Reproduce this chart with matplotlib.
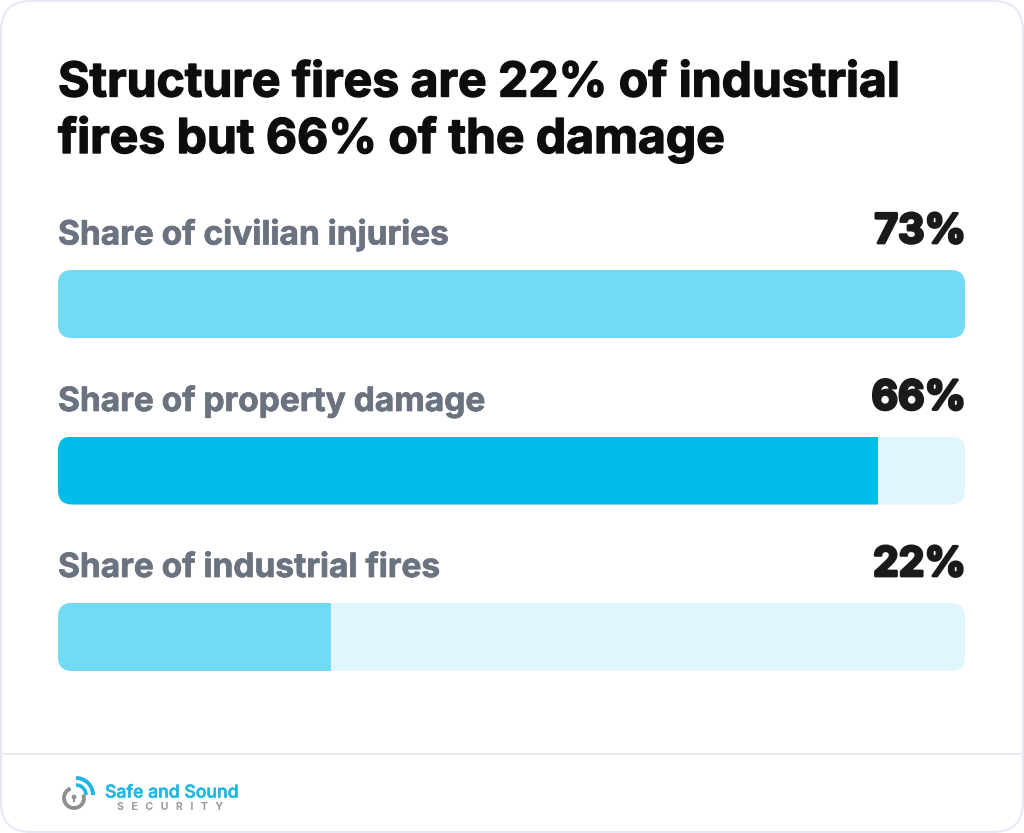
import matplotlib
matplotlib.use('Agg')
import matplotlib.pyplot as plt
import matplotlib.patheffects as pe
from matplotlib.patches import FancyBboxPatch, Arc, Circle, Rectangle

title_lines = ['Structure fires are 22% of industrial', 'fires but 66% of the damage']
categories = ['Share of civilian injuries', 'Share of property damage', 'Share of industrial fires']
values = [73, 66, 22]
value_labels = ['73%', '66%', '22%']
bar_colors = ['#72daf2', '#00bce8', '#72daf2']
axis_max = 73

W, H = 1024, 833
fig = plt.figure(figsize=(W / 100, H / 100), dpi=100, facecolor='white')


def heavy(width, color):
    # Inter Bold is lighter than the original face, so thicken it a bit
    return [pe.withStroke(linewidth=width, foreground=color)]


# overlay in pixel units for card, text and logo
px = fig.add_axes([0, 0, 1, 1])
px.set_xlim(0, W)
px.set_ylim(H, 0)
px.axis('off')

px.add_patch(FancyBboxPatch((1, 1), W - 2, H - 2, boxstyle='round,pad=0,rounding_size=30',
                            fc='white', ec='#e6e9f3', lw=1.5))
px.plot([1, W - 1], [754, 754], color='#e6e9f3', lw=1.2)

# title
for line, y in zip(title_lines, [83.5, 139.5]):
    px.text(58, y, line, fontfamily='Inter', fontweight='bold', fontsize=34.6,
            color='#0d0d0d', va='center', ha='left', path_effects=heavy(1.0, '#0d0d0d'))

# bars
top, bottom, left, right = 270, 671, 58, 965
ax = fig.add_axes([left / W, 1 - bottom / H, (right - left) / W, (bottom - top) / H])
ax.set_xlim(0, axis_max)
bar_h = 68 / 166.5
ax.set_ylim(2 + bar_h / 2, -bar_h / 2)
ax.axis('off')
ax.patch.set_alpha(0)

rows = list(range(len(categories)))
tracks = ax.barh(rows, [axis_max] * 3, height=bar_h, color='#e1f5fc')
fills = ax.barh(rows, values, height=bar_h, color=bar_colors)

# rounded ends: clip each bar to a rounded box the size of its track
for i, (tr, fl) in enumerate(zip(tracks, fills)):
    y0 = top + i * 166.5
    clip = FancyBboxPatch((left, y0), right - left, 68,
                          boxstyle='round,pad=0,rounding_size=14',
                          transform=px.transData, fc='none', ec='none')
    tr.set_clip_path(clip)
    fl.set_clip_path(clip)

# labels above the bars
for i, (cat, lab) in enumerate(zip(categories, value_labels)):
    y = 235 + i * 166.5
    px.text(58, y, cat, fontfamily='Inter', fontweight='bold', fontsize=24.1,
            color='#6b7280', va='center', ha='left', path_effects=heavy(0.5, '#6b7280'))
    px.text(966, y - 3, lab, fontfamily='Inter', fontweight='bold', fontsize=29.4,
            color='#1a1a1a', va='center', ha='right', path_effects=heavy(2.0, '#1a1a1a'))

# logo
px.add_patch(Arc((74, 798), 20, 20, theta1=-20, theta2=250, ec='#8f8f8f', lw=2.8))
px.add_patch(Circle((74, 797), 2.4, fc='#8f8f8f', ec='none'))
px.add_patch(Rectangle((73, 797), 2, 5, fc='#8f8f8f', ec='none'))
px.add_patch(Arc((76, 795), 20, 20, theta1=-90, theta2=0, ec='#1fb6e0', lw=2.6))
px.add_patch(Arc((76, 795), 34, 34, theta1=-90, theta2=0, ec='#1fb6e0', lw=2.8))
px.text(105, 793, 'Safe and Sound', fontfamily='Inter', fontweight='medium', fontsize=12.7,
        color='#1fb6e0', va='center', ha='left', path_effects=heavy(0.4, '#1fb6e0'))
px.text(117, 807, 'S   E   C   U   R   I   T   Y', fontfamily='Inter', fontweight='bold', fontsize=7.6,
        color='#9a9a9a', va='center', ha='left')

fig.savefig('out.png', dpi=100)
plt.close(fig)
